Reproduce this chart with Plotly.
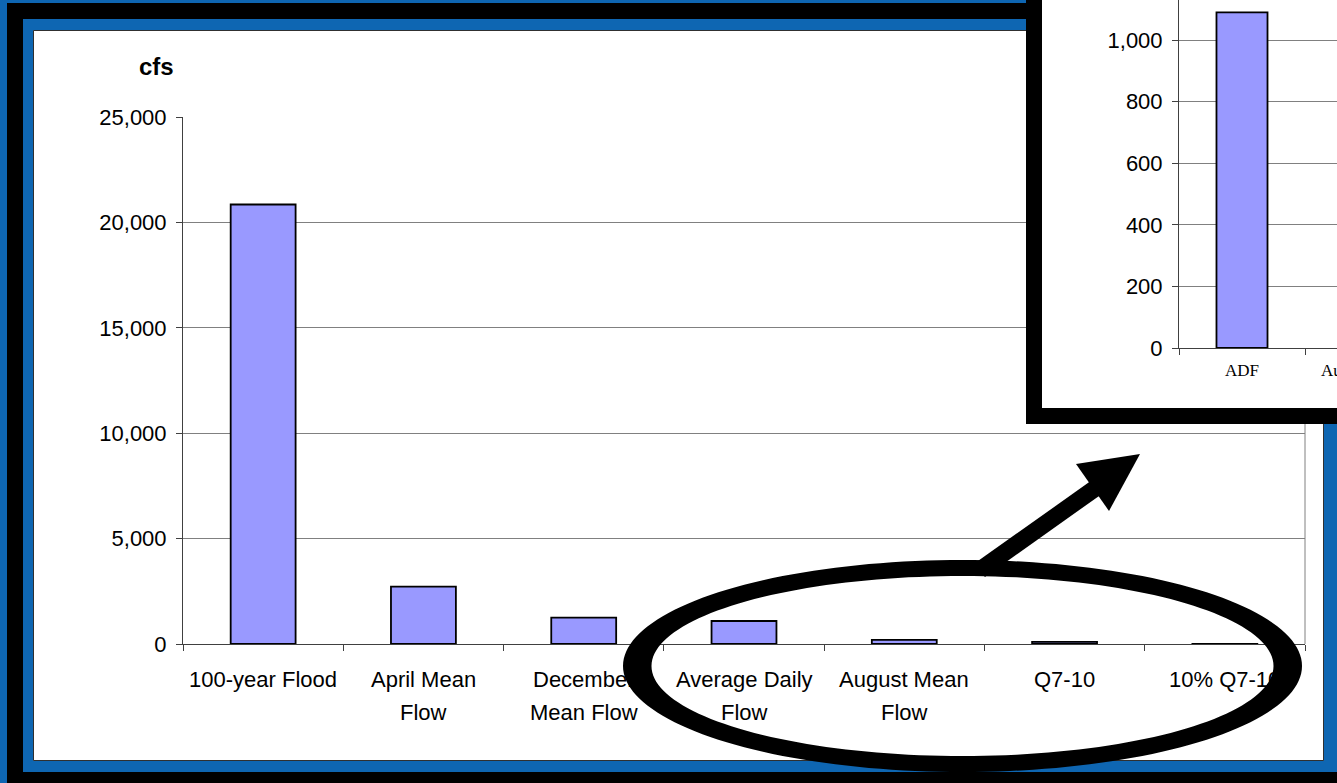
import math
import plotly.graph_objects as go

# ---------------- data ----------------
categories = ["100-year Flood", "April Mean<br>Flow", "December<br>Mean Flow",
              "Average Daily<br>Flow", "August Mean<br>Flow", "Q7-10", "10% Q7-10"]
flows_cfs = [20850, 2720, 1250, 1090, 200, 100, 10]
y_ticks = [0, 5000, 10000, 15000, 20000, 25000]

inset_categories = ["ADF", "August Mean<br>Flow", "Q7-10", "10% Q7-10"]
inset_flows = [1090, 200, 100, 10]
inset_y_ticks = [0, 200, 400, 600, 800, 1000]

# ---------------- geometry helpers ----------------
W, H = 1337, 783
def px(x):
    return x / W
def py(y):
    return 1 - y / H

BLUE = "#0E66B2"
BAR = "#9999FF"
GRID = "#808080"
AXIS = "#404040"
SANS = "Liberation Sans, Arial, sans-serif"
SERIF = "Liberation Serif, Times New Roman, serif"

fig = go.Figure()

# main bars
fig.add_trace(go.Bar(x=categories, y=flows_cfs, xaxis="x", yaxis="y",
                     marker=dict(color=BAR, line=dict(color="black", width=1.8)),
                     hoverinfo="y", showlegend=False))
# cover subplot (white inset panel lives here)
fig.add_trace(go.Scatter(x=[], y=[], xaxis="x2", yaxis="y2", showlegend=False))
# inset bars
fig.add_trace(go.Bar(x=inset_categories, y=inset_flows, xaxis="x3", yaxis="y3",
                     marker=dict(color=BAR, line=dict(color="black", width=1.8)),
                     hoverinfo="y", showlegend=False))

inset_range = [-0.5, 0.754]
inset_left, inset_right = 1179, 1337

shapes = []
# frame
shapes.append(dict(type="rect", xref="paper", yref="paper", x0=px(7), x1=px(1400),
                   y0=py(3), y1=py(800), fillcolor="black", line=dict(width=0), layer="below"))
shapes.append(dict(type="rect", xref="paper", yref="paper", x0=px(23), x1=px(1400),
                   y0=py(19), y1=py(772), fillcolor=BLUE, line=dict(width=0), layer="below"))
shapes.append(dict(type="rect", xref="paper", yref="paper", x0=px(33.5), x1=px(1323.5),
                   y0=py(30.5), y1=py(760.5), fillcolor="white",
                   line=dict(color="#303030", width=1), layer="below"))
# right border of main plot area
shapes.append(dict(type="line", xref="paper", yref="y", x0=px(1305), x1=px(1305),
                   y0=0, y1=y_ticks[-1], line=dict(color=GRID, width=1), layer="below"))
# inset panel (drawn in cover subplot so it sits above the main chart)
shapes.append(dict(type="rect", xref="x2", yref="y2", x0=-0.1, x1=1.1, y0=-0.1, y1=1.1,
                   fillcolor="black", line=dict(width=0), layer="below"))
shapes.append(dict(type="rect", xref="x2", yref="y2", x0=16 / 311, x1=1.1, y0=16 / 424, y1=1.1,
                   fillcolor="white", line=dict(width=0), layer="below"))

# ellipse ring (outer minus inner), drawn as polygon path
cx, cy = 962.5, 666
ao, bo = 339.5, 106
ai, bi = 311, 90
n = 180
outer = [(cx + ao * math.cos(2 * math.pi * k / n), cy + bo * math.sin(2 * math.pi * k / n)) for k in range(n)]
inner = [(cx + ai * math.cos(-2 * math.pi * k / n), cy + bi * math.sin(-2 * math.pi * k / n)) for k in range(n)]
def path_of(pts):
    s = "M %.5f,%.5f " % (px(pts[0][0]), py(pts[0][1]))
    s += " ".join("L %.5f,%.5f" % (px(x), py(y)) for x, y in pts[1:])
    return s + " Z"
shapes.append(dict(type="path", xref="paper", yref="paper",
                   path=path_of(outer) + " " + path_of(inner),
                   fillcolor="black", line=dict(width=0), layer="above"))
# arrow
shapes.append(dict(type="line", xref="paper", yref="paper", x0=px(980), y0=py(570),
                   x1=px(1097), y1=py(487), line=dict(color="black", width=17), layer="above"))
shapes.append(dict(type="path", xref="paper", yref="paper",
                   path=path_of([(1140, 454), (1076, 464), (1109, 511)]),
                   fillcolor="black", line=dict(width=0), layer="above"))

annotations = [
    dict(text="<b>cfs</b>", xref="paper", yref="paper", x=px(156), y=py(66),
         xanchor="center", yanchor="middle",
         showarrow=False, font=dict(family=SANS, size=24, color="black")),
]
# main category labels: one annotation per text line (wider line spacing than plotly's default)
for cat in categories:
    for i, line in enumerate(cat.split("<br>")):
        annotations.append(dict(text=line, xref="x", yref="paper", x=cat, y=py(679 + 33 * i),
                                xanchor="center", yanchor="middle", showarrow=False,
                                font=dict(family=SANS, size=22, color="black")))
# inset category labels (the second one runs past the right edge and is cut off)
cat_px = (inset_right - inset_left) / (inset_range[1] - inset_range[0])
for idx, cat in enumerate(inset_categories[:2]):
    for i, line in enumerate(cat.split("<br>")):
        annotations.append(dict(text=line, xref="paper", yref="paper",
                                x=px(inset_left + (idx - inset_range[0]) * cat_px),
                                y=py(370 + 20 * i), xanchor="center", yanchor="middle",
                                showarrow=False, font=dict(family=SERIF, size=17, color="black")))

common = dict(automargin=False, fixedrange=True)
fig.update_layout(
    template="none",
    width=W, height=H, autosize=False,
    margin=dict(l=0, r=0, t=0, b=0, pad=0, autoexpand=False),
    paper_bgcolor=BLUE, plot_bgcolor="white",
    bargap=0.595, showlegend=False, hovermode="closest",
    shapes=shapes, annotations=annotations,
    xaxis=dict(domain=[px(183), px(1305)], anchor="y", type="category",
               range=[-0.5, len(categories) - 0.5], showgrid=False,
               showline=True, linecolor=AXIS, linewidth=1,
               ticks="outside", tickson="boundaries", ticklen=6, tickcolor=AXIS, tickwidth=1,
               showticklabels=False, **common),
    yaxis=dict(domain=[py(644), py(117)], anchor="x", range=[0, y_ticks[-1]],
               tickvals=y_ticks, ticktext=[f"{v:,}" for v in y_ticks],
               showgrid=True, gridcolor=GRID, gridwidth=1, zeroline=False,
               showline=True, linecolor=AXIS, linewidth=1,
               ticks="outside", ticklen=6, tickcolor=AXIS, tickwidth=1,
               tickfont=dict(family=SANS, size=22, color="black"),
               ticklabelstandoff=5, **common),
    xaxis2=dict(domain=[px(1026), 1], anchor="y2", range=[0, 1], visible=False, **common),
    yaxis2=dict(domain=[py(424), 1], anchor="x2", range=[0, 1], visible=False, **common),
    xaxis3=dict(domain=[px(inset_left), 1], anchor="y3", type="category",
                range=inset_range, showgrid=False,
                showline=True, linecolor=AXIS, linewidth=1,
                ticks="outside", tickson="boundaries", ticklen=6, tickcolor=AXIS, tickwidth=1,
                showticklabels=False, **common),
    yaxis3=dict(domain=[py(348), 1], anchor="x3",
                range=[0, inset_y_ticks[-1] * 348 / 308],
                tickvals=inset_y_ticks, ticktext=[f"{v:,}" for v in inset_y_ticks],
                showgrid=True, gridcolor=GRID, gridwidth=1, zeroline=False,
                showline=True, linecolor=AXIS, linewidth=1,
                ticks="outside", ticklen=6, tickcolor=AXIS, tickwidth=1,
                tickfont=dict(family=SANS, size=22, color="black"),
                ticklabelstandoff=5, **common),
)

fig.write_html("out.html", config={"displayModeBar": False})
